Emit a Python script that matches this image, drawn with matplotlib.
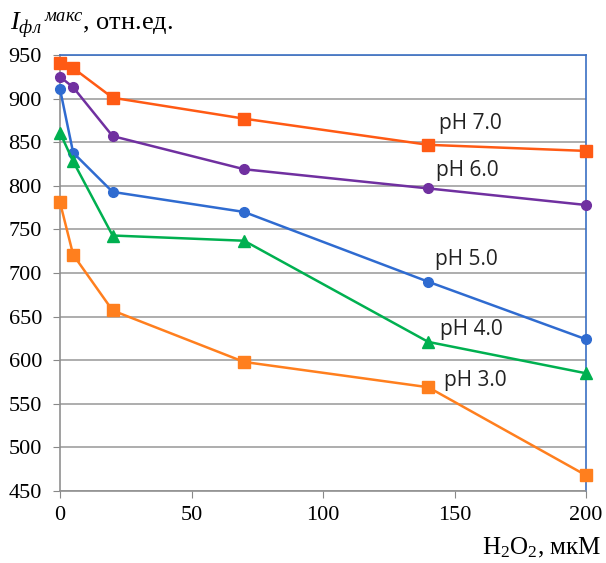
import matplotlib
matplotlib.use("Agg")
import matplotlib.pyplot as plt

plt.rcParams['mathtext.fontset'] = 'custom'
plt.rcParams['mathtext.rm'] = 'Liberation Serif'
plt.rcParams['mathtext.it'] = 'Liberation Serif:italic'
plt.rcParams['font.family'] = ['Liberation Serif', 'DejaVu Serif']

x = [0, 5, 20, 70, 140, 200]
ph7 = [941, 935, 901, 877, 847, 840]
ph6 = [925, 913, 857, 819, 797, 778]
ph5 = [911, 838, 793, 770, 690, 624]
ph4 = [861, 828, 743, 737, 621, 585]
ph3 = [781, 721, 657, 598, 569, 468]
labels = ['pH 7.0', 'pH 6.0', 'pH 5.0', 'pH 4.0', 'pH 3.0']
label_pos = [(144, 872), (143, 818), (142.6, 715), (144.5, 635), (146, 577)]
xticks = [0, 50, 100, 150, 200]
yticks = [450, 500, 550, 600, 650, 700, 750, 800, 850, 900, 950]

fig = plt.figure(figsize=(6.06, 5.63), dpi=100)
ax = fig.add_axes([60/606, 1-491/563, (586-60)/606, (491-55)/563])

series = [
    (ph7, '#FF5A14', 's', 8),
    (ph6, '#7030A0', 'o', 7),
    (ph5, '#2F6BD0', 'o', 7),
    (ph4, '#00B050', '^', 8),
    (ph3, '#FF7F1E', 's', 8),
]
for ys, c, m, ms in series:
    ax.plot(x, ys, color=c, marker=m, markersize=ms, linewidth=1.8,
            clip_on=False, zorder=3)

for lab, (lx, ly) in zip(labels, label_pos):
    ax.text(lx, ly, lab, fontsize=15, family=['Open Sans', 'DejaVu Sans'],
            va='center', ha='left', color='#222222', zorder=4)

ax.set_xlim(0, 200)
ax.set_ylim(450, 950)
ax.set_xticks(xticks)
ax.set_yticks(yticks)
ax.tick_params(axis='both', labelsize=16, length=5, color='#888888')
ax.tick_params(axis='y', pad=8)
ax.tick_params(axis='x', pad=6)
ax.yaxis.grid(True, color='#A0A0A0', linewidth=1.2)
ax.set_axisbelow(True)
for s in ['left', 'bottom']:
    ax.spines[s].set_color('#909090')
    ax.spines[s].set_linewidth(1.2)
for s in ['top', 'right']:
    ax.spines[s].set_color('#3A6FC4')
    ax.spines[s].set_linewidth(1.2)

fig.text(10/606, 1-25/563,
         r'$\mathit{I}_{\mathit{фл}}\,{}^{\mathit{макс}}$, отн.ед.',
         fontsize=19, va='center', ha='left')
fig.text(601/606, 1-548/563, r'H$_2$O$_2$, мкМ', fontsize=18,
         va='center', ha='right')

fig.savefig('out.png', dpi=100)
